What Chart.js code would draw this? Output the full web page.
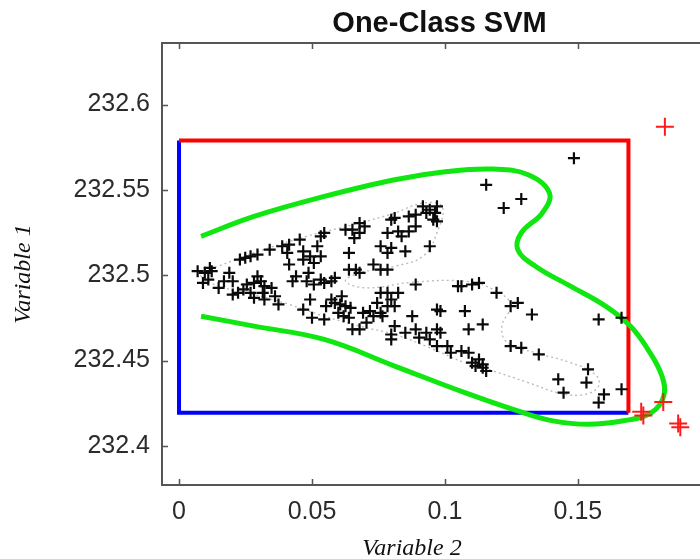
<!DOCTYPE html>
<html>
<head>
<meta charset="utf-8">
<script src="https://cdn.jsdelivr.net/npm/chart.js@4.4.1/dist/chart.umd.min.js"></script>
<style>
  html, body { margin: 0; padding: 0; overflow: hidden; background: #fff; }
  #wrap { width: 728px; height: 559px; }
</style>
</head>
<body>
<div id="wrap"><canvas id="c" width="728" height="559"></canvas></div>
<script>
// ---- text ----
const chartTitle = 'One-Class SVM';
const xAxisTitle = 'Variable 2';
const yAxisTitle = 'Variable 1';

// ---- axes ----
const xTicks = [0, 0.05, 0.1, 0.15];
const yTicks = [232.4, 232.45, 232.5, 232.55, 232.6];
const xRange = [-0.0064, 0.2023];
const yRange = [232.3771, 232.6361];

// ---- bounding box of the training samples ----
const boxX = [0, 0.169];
const boxY = [232.4195, 232.579];

// ---- training samples (Variable 2, Variable 1) ----
const samples = [
  [0.0070,232.5024],[0.0097,232.5014],[0.0123,232.5024],[0.0090,232.4955],[0.0110,232.4975],
  [0.0149,232.4926],[0.0189,232.5014],[0.0202,232.4965],[0.0229,232.5092],[0.0249,232.5102],
  [0.0269,232.5111],[0.0295,232.5121],[0.0222,232.4897],[0.0202,232.4887],[0.0269,232.4897],
  [0.0282,232.4955],[0.0308,232.4965],[0.0321,232.4936],[0.0348,232.4926],[0.0282,232.4868],
  [0.0321,232.4858],[0.0374,232.4829],[0.0341,232.5150],[0.0388,232.5170],[0.0414,232.5179],
  [0.0454,232.5209],[0.0467,232.5140],[0.0493,232.5111],[0.0507,232.5072],[0.0533,232.5111],
  [0.0414,232.5063],[0.0427,232.4965],[0.0440,232.4994],[0.0480,232.4965],[0.0507,232.4946],
  [0.0533,232.4975],[0.0573,232.4965],[0.0586,232.4985],[0.0520,232.5170],[0.0533,232.5228],
  [0.0546,232.5248],[0.0493,232.4858],[0.0467,232.4799],[0.0500,232.4751],[0.0546,232.4741],
  [0.0573,232.4858],[0.0586,232.4838],[0.0612,232.4877],[0.0599,232.4780],[0.0626,232.4819],
  [0.0639,232.4751],[0.0652,232.4683],[0.0679,232.4683],[0.0692,232.4780],[0.0731,232.4760],
  [0.0758,232.4780],[0.0745,232.4838],[0.0784,232.4819],[0.0798,232.4858],[0.0758,232.4897],
  [0.0784,232.4897],[0.0824,232.4897],[0.0639,232.5131],[0.0639,232.5033],[0.0665,232.5033],
  [0.0679,232.5014],[0.0731,232.5063],[0.0758,232.5033],[0.0784,232.5033],[0.0626,232.5267],
  [0.0652,232.5267],[0.0679,232.5306],[0.0679,232.5248],[0.0798,232.5326],[0.0811,232.5336],
  [0.0864,232.5345],[0.0890,232.5355],[0.0917,232.5404],[0.0943,232.5384],[0.0970,232.5404],
  [0.0956,232.5326],[0.0970,232.5316],[0.0784,232.5248],[0.0837,232.5228],[0.0864,232.5257],
  [0.0890,232.5287],[0.0758,232.5170],[0.0798,232.5160],[0.0784,232.5131],[0.0851,232.5140],
  [0.0943,232.5170],[0.0890,232.4946],[0.1062,232.4936],[0.1102,232.4946],[0.1128,232.4955],
  [0.1194,232.4897],[0.1247,232.4819],[0.1274,232.4838],[0.1327,232.4770],[0.0877,232.4760],
  [0.0970,232.4799],[0.0983,232.4790],[0.1075,232.4790],[0.1089,232.4683],[0.1142,232.4712],
  [0.0811,232.4702],[0.0798,232.4653],[0.0798,232.4624],[0.0851,232.4663],[0.0903,232.4634],
  [0.0930,232.4663],[0.0970,232.4683],[0.0983,232.4663],[0.0970,232.4585],[0.1009,232.4585],
  [0.1062,232.4556],[0.1089,232.4546],[0.1102,232.4488],[0.1115,232.4468],[0.1142,232.4478],
  [0.1155,232.4439],[0.1247,232.4585],[0.1287,232.4575],[0.1353,232.4536],[0.1538,232.4449],
  [0.1426,232.4390],[0.1446,232.4312],[0.1532,232.4371],[0.1578,232.4741],[0.1664,232.4751],
  [0.1664,232.4332],[0.1598,232.4302],[0.1578,232.4254],[0.1155,232.5530],[0.1221,232.5394],
  [0.1287,232.5447],[0.1485,232.5686],
  [0.0116,232.5043],[0.0169,232.4965],[0.0242,232.4917],[0.0255,232.4946],[0.0295,232.4994],
  [0.0315,232.4897],[0.0361,232.4877],[0.0407,232.5131],[0.0467,232.5092],[0.0487,232.5014],
  [0.0546,232.4955],[0.0553,232.4819],[0.0606,232.4829],[0.0619,232.4760],[0.0645,232.4809],
  [0.0705,232.4722],[0.0718,232.4790],[0.0765,232.4760],[0.0811,232.4819],[0.0659,232.5218],
  [0.0698,232.5287],[0.0824,232.5257],[0.0930,232.5365],[0.0963,232.5365],[0.0890,232.4683],
  [0.0943,232.4624],[0.1022,232.4546],[0.1128,232.4507],[0.1142,232.4458],[0.1049,232.4936]
];

// ---- samples flagged as outliers ----
const outliers = [
  [0.1827,232.5870],[0.1746,232.4178],[0.1738,232.4200],[0.1821,232.4258],[0.1877,232.4131],[0.1885,232.4110]
];

// ---- one-class SVM decision boundary ----
const decisionBoundary = [
  [0.0083,232.5228],[0.0282,232.5345],[0.0546,232.5462],[0.0811,232.5560],[0.1009,232.5608],
  [0.1181,232.5622],[0.1313,232.5589],[0.1393,232.5482],[0.1366,232.5365],[0.1287,232.5248],
  [0.1274,232.5150],[0.1340,232.5053],[0.1472,232.4936],[0.1604,232.4819],[0.1697,232.4702],
  [0.1763,232.4566],[0.1816,232.4410],[0.1823,232.4293],[0.1776,232.4195],[0.1671,232.4147],
  [0.1538,232.4127],[0.1406,232.4147],[0.1274,232.4205],[0.1075,232.4312],[0.0811,232.4468],
  [0.0546,232.4624],[0.0282,232.4702],[0.0083,232.4760]
];

// ---- inner density contour ----
const innerContour = [
  [0.0083,232.5014],[0.0282,232.5131],[0.0480,232.5228],[0.0679,232.5306],[0.0811,232.5365],
  [0.0917,232.5423],[0.0989,232.5404],[0.0970,232.5248],[0.0917,232.5111],[0.0811,232.5053],
  [0.0679,232.5014],[0.0626,232.4965],[0.0705,232.4926],[0.0877,232.4959],[0.1075,232.4965],
  [0.1181,232.4917],[0.1247,232.4829],[0.1214,232.4702],[0.1234,232.4605],[0.1340,232.4546],
  [0.1472,232.4488],[0.1565,232.4419],[0.1578,232.4351],[0.1525,232.4302],[0.1433,232.4308],
  [0.1313,232.4371],[0.1181,232.4439],[0.1075,232.4488],[0.0943,232.4575],[0.0811,232.4653],
  [0.0679,232.4702],[0.0546,232.4760],[0.0414,232.4829],[0.0282,232.4887],[0.0149,232.4936],
  [0.0083,232.4994],[0.0083,232.5014]
];

const toXY = arr => arr.map(([x, y]) => ({x, y}));

const redEdges = [
  {x: boxX[0], y: boxY[1]}, {x: boxX[1], y: boxY[1]}, {x: boxX[1], y: boxY[0]}
];
const blueEdges = [
  {x: boxX[0], y: boxY[1]}, {x: boxX[0], y: boxY[0]}, {x: boxX[1], y: boxY[0]}
];

const fmt = v => String(+v.toFixed(2));

// top border line plus inward tick marks
const axesFrame = {
  id: 'axesFrame',
  afterDraw(chart) {
    const {ctx, chartArea: a, scales: {x, y}} = chart;
    ctx.save();
    ctx.strokeStyle = '#555';
    ctx.lineWidth = 2;
    ctx.beginPath();
    ctx.moveTo(a.left, a.top);
    ctx.lineTo(a.right, a.top);
    ctx.stroke();
    ctx.lineWidth = 1.5;
    ctx.beginPath();
    x.ticks.forEach(t => {
      const px = Math.round(x.getPixelForValue(t.value)) + 0.5;
      ctx.moveTo(px, a.bottom); ctx.lineTo(px, a.bottom - 6);
      ctx.moveTo(px, a.top); ctx.lineTo(px, a.top + 6);
    });
    y.ticks.forEach(t => {
      const py = Math.round(y.getPixelForValue(t.value)) + 0.5;
      ctx.moveTo(a.left, py); ctx.lineTo(a.left + 6, py);
    });
    ctx.stroke();
    ctx.restore();
  }
};

// LaTeX-style italic axis titles
const axisTitles = {
  id: 'axisTitles',
  afterDraw(chart) {
    const {ctx} = chart;
    ctx.save();
    ctx.fillStyle = '#111';
    ctx.font = 'italic 24px "Liberation Serif", "DejaVu Serif", serif';
    ctx.textAlign = 'center';
    ctx.textBaseline = 'alphabetic';
    ctx.fillText(xAxisTitle, 412, 555);
    ctx.translate(30, 274);
    ctx.rotate(-Math.PI / 2);
    ctx.fillText(yAxisTitle, 0, 0);
    ctx.restore();
  }
};

const chart = new Chart(document.getElementById('c'), {
  type: 'scatter',
  data: {
    datasets: [
      {
        label: 'samples',
        data: toXY(samples),
        pointStyle: 'cross',
        pointRadius: 6,
        borderWidth: 2.2,
        borderColor: '#0a0a0a',
        backgroundColor: '#0a0a0a',
        order: 0
      },
      {
        label: 'outliers',
        data: toXY(outliers),
        pointStyle: 'cross',
        pointRadius: 9,
        borderWidth: 2,
        borderColor: '#ff1a1a',
        backgroundColor: '#ff1a1a',
        order: 1
      },
      {
        label: 'decision boundary',
        data: toXY(decisionBoundary),
        showLine: true,
        tension: 0.4,
        pointRadius: 0,
        borderWidth: 5,
        borderColor: '#10e610',
        order: 2
      },
      {
        label: 'inner contour',
        data: toXY(innerContour),
        showLine: true,
        tension: 0.4,
        pointRadius: 0,
        borderWidth: 1.3,
        borderDash: [2, 3],
        borderColor: '#b8b8b8',
        order: 3
      },
      {
        label: 'box max',
        data: redEdges,
        showLine: true,
        pointRadius: 0,
        borderWidth: 4,
        borderColor: '#ff0000',
        order: 4
      },
      {
        label: 'box min',
        data: blueEdges,
        showLine: true,
        pointRadius: 0,
        borderWidth: 4,
        borderColor: '#0000ff',
        order: 5
      }
    ]
  },
  options: {
    responsive: false,
    animation: false,
    events: [],
    layout: { padding: { left: 0, right: 3, top: 0, bottom: 0 } },
    plugins: {
      legend: { display: false },
      tooltip: { enabled: false },
      title: {
        display: true,
        text: chartTitle,
        fullSize: false,
        color: '#111',
        font: { family: '"Liberation Sans", Arial, sans-serif', size: 29, weight: 'bold' },
        padding: { top: 7, bottom: 1.2 }
      }
    },
    scales: {
      x: {
        type: 'linear',
        min: xRange[0],
        max: xRange[1],
        afterBuildTicks: s => { s.ticks = xTicks.map(v => ({value: v})); },
        afterFit: s => { s.height = 74; },
        grid: { display: false, drawTicks: false },
        border: { display: true, color: '#555', width: 2 },
        ticks: {
          padding: 12,
          color: '#2b2b2b',
          font: { family: '"Liberation Sans", Arial, sans-serif', size: 25 },
          callback: v => fmt(v)
        }
      },
      y: {
        type: 'linear',
        min: yRange[0],
        max: yRange[1],
        afterBuildTicks: s => { s.ticks = yTicks.map(v => ({value: v})); },
        afterFit: s => { s.width = 162; },
        grid: { display: false, drawTicks: false },
        border: { display: true, color: '#555', width: 2 },
        ticks: {
          padding: 12,
          color: '#2b2b2b',
          font: { family: '"Liberation Sans", Arial, sans-serif', size: 25 },
          callback: v => fmt(v)
        }
      }
    }
  },
  plugins: [axesFrame, axisTitles]
});
</script>
</body>
</html>
